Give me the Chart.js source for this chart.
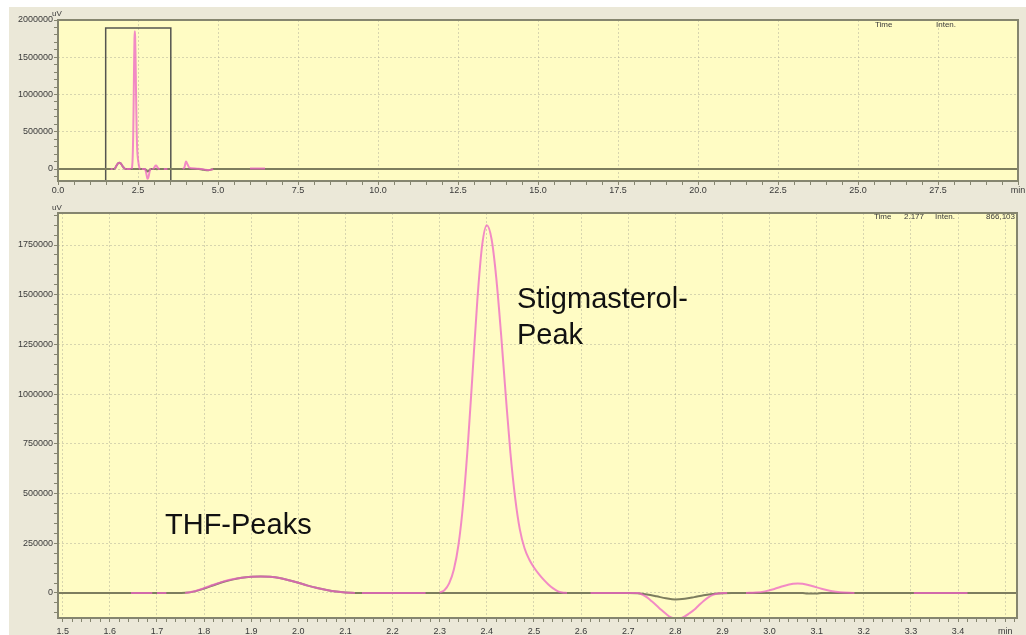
<!DOCTYPE html>
<html>
<head>
<meta charset="utf-8">
<script src="https://cdn.jsdelivr.net/npm/chart.js@4.4.1/dist/chart.umd.min.js"></script>
<style>
  html, body { margin: 0; padding: 0; background: #fff; }
  body { width: 1026px; height: 635px; position: relative; overflow: hidden; }
  #panel { position: absolute; left: 9px; top: 7px; right: 0; bottom: 0; background: #ebe8d8; }
  #overview { position: absolute; left: 0; top: 0; }
  #detail { position: absolute; left: 0; top: 196px; }
</style>
</head>
<body>
<div id="panel"></div>
<canvas id="overview" width="1026" height="198"></canvas>
<canvas id="detail" width="1026" height="439"></canvas>
<script>
// sample run (pink), null = trace not visible
const sampleTime = [
  1.645, 1.69, 1.695, 1.70, 1.72, 1.74,
  1.76, 1.78, 1.80, 1.82, 1.84, 1.86, 1.88, 1.90, 1.92, 1.94, 1.96, 1.98, 2.00, 2.02, 2.04, 2.06, 2.08, 2.10, 2.12, 2.125,
  2.135, 2.27, 2.285,
  2.30, 2.31, 2.32, 2.33, 2.34, 2.35, 2.36, 2.37, 2.38, 2.39, 2.40, 2.41, 2.42, 2.43, 2.44, 2.45, 2.46, 2.47, 2.48, 2.49,
  2.50, 2.51, 2.52, 2.53, 2.54, 2.55, 2.56, 2.57, 2.59,
  2.62, 2.72, 2.73, 2.74, 2.75, 2.76, 2.77, 2.78, 2.79, 2.80, 2.81, 2.82, 2.83, 2.84, 2.85, 2.86, 2.87, 2.88, 2.89, 2.91, 2.93,
  2.95, 2.97, 2.99, 3.01, 3.03, 3.05, 3.06, 3.07, 3.09, 3.11, 3.13, 3.15, 3.18, 3.25,
  3.306, 3.42, 3.60,
  3.90, 3.95, 4.00, 4.05, 4.10, 4.20, 4.35, 4.50, 4.60, 4.75, 4.85, 5.50,
  6.00, 6.47
];
const sampleSignal = [
  0, 0, null, 0, 0, null,
  0, 9000, 24000, 41000, 57000, 69000, 77000, 82000, 83000, 81000, 75000, 64000, 51000, 37000, 25000, 15000, 7000, 2000, 0, null,
  0, 0, null,
  2000, 14000, 48000, 118000, 245000, 455000, 755000, 1115000, 1478000, 1748000, 1850000, 1780000, 1585000, 1308000, 998000, 705000, 480000, 320000, 225000, 168000,
  128000, 96000, 68000, 44000, 24000, 9000, 2000, 0, null,
  0, 0, -8000, -22000, -42000, -63000, -85000, -105000, -122000, -130000, -128000, -118000, -102000, -85000, -62000, -40000, -22000, -10000, -3000, 0, null,
  0, 2000, 8000, 20000, 35000, 46000, 48000, 46000, 35000, 21000, 10000, 3000, 0, null,
  0, 0, null,
  0, 20000, 100000, 60000, 20000, 10000, 5000, 0, -10000, -15000, 0, null,
  8000, 8000
];

// blank / solvent run (olive)
const blankTime = [
  0, 1.74, 1.76, 1.78, 1.80, 1.82, 1.84, 1.86, 1.88, 1.90, 1.92, 1.94, 1.96, 1.98, 2.00, 2.02, 2.04, 2.06, 2.08, 2.10, 2.12,
  2.70, 2.72, 2.74, 2.76, 2.78, 2.80, 2.82, 2.84, 2.86, 2.88, 2.90, 2.92,
  3.07, 3.08, 3.10, 3.11, 4.40, 4.55, 4.70, 4.85, 30
];
const blankSignal = [
  0, 0, 1000, 8000, 22000, 39000, 55000, 67000, 76000, 81000, 83000, 81000, 75000, 64000, 51000, 37000, 25000, 15000, 7000, 2000, 0,
  0, -2000, -8000, -17000, -27000, -33000, -29000, -21000, -12000, -5000, -1000, 0,
  0, -3000, -3000, 0, 0, -10000, -18000, 0, 0
];

// zoom window marked on the overview
const zoomBoxTime = [1.49, 1.49, 3.525, 3.525, 1.49];
const zoomBoxSignal = [-161000, 1893000, 1893000, -161000, -161000];

const overviewYLabels = [0, 500000, 1000000, 1500000, 2000000];
const detailYLabels = [0, 250000, 500000, 750000, 1000000, 1250000, 1500000, 1750000];

const plotFill = "#fffcc4";
const frameColor = "#85856f";
const gridColor = "rgba(150,150,140,0.38)";
const labelColor = "#3a3a3a";
const pinkColor = "rgba(238,100,196,0.75)";
const oliveColor = "#7d7d5e";

Chart.defaults.font.family = "'Liberation Sans', Arial, sans-serif";
Chart.defaults.animation = false;

const zip = (xs, ys) => xs.map((x, i) => ({ x: x, y: ys[i] }));
const isMultiple = (v, step) => Math.abs(v / step - Math.round(v / step)) < 1e-6;

function makeTicks(min, max, step) {
  const out = [];
  const n0 = Math.ceil(min / step - 1e-9), n1 = Math.floor(max / step + 1e-9);
  for (let i = n0; i <= n1; i++) out.push({ value: +(i * step).toFixed(6) });
  return out;
}

function xScale(min, max, minor, major, endAt, pad) {
  return {
    type: "linear", min: min, max: max,
    afterBuildTicks: s => { s.ticks = makeTicks(min, max, minor); },
    afterFit: s => { s.height = 17; },
    grid: {
      color: c => c.tick && isMultiple(c.tick.value, major) ? gridColor : "transparent",
      tickColor: frameColor, tickLength: 4, lineWidth: 1
    },
    border: { display: false, dash: [2, 2] },
    ticks: {
      autoSkip: false, maxRotation: 0, padding: pad, color: labelColor, font: { size: 9 },
      callback: v => Math.abs(v - endAt) < 1e-6 ? "min" : (isMultiple(v, major) ? v.toFixed(1) : "")
    }
  };
}

function yScale(min, max, minor, labels) {
  return {
    min: min, max: max,
    afterBuildTicks: s => { s.ticks = makeTicks(min, max, minor); },
    afterFit: s => { s.width = 58; },
    grid: {
      color: c => c.tick && labels.includes(c.tick.value) ? gridColor : "transparent",
      tickColor: frameColor, tickLength: 4, lineWidth: 1
    },
    border: { display: false, dash: [2, 2] },
    ticks: {
      autoSkip: false, padding: 1, color: labelColor, font: { size: 9 },
      callback: v => labels.includes(v) ? String(v) : ""
    }
  };
}

const panelPlugin = {
  id: "panel",
  beforeDraw(chart) {
    const { ctx, chartArea: a } = chart;
    ctx.save();
    ctx.fillStyle = plotFill;
    ctx.fillRect(a.left, a.top, a.right - a.left, a.bottom - a.top);
    ctx.restore();
  },
  afterDatasetsDraw(chart) {
    const { ctx, chartArea: a } = chart;
    ctx.save();
    ctx.strokeStyle = frameColor;
    ctx.lineWidth = 2;
    ctx.strokeRect(a.left, a.top, a.right - a.left, a.bottom - a.top);
    ctx.restore();
  }
};

function textPlugin(items) {
  return {
    id: "texts",
    afterDraw(chart) {
      const ctx = chart.ctx;
      ctx.save();
      ctx.textBaseline = "middle";
      items.forEach(t => {
        ctx.font = t.font;
        ctx.fillStyle = t.color;
        ctx.textAlign = t.align || "left";
        ctx.fillText(t.text, t.x, t.y);
      });
      ctx.restore();
    }
  };
}

const small = "8px 'Liberation Sans', Arial, sans-serif";
const big = "29px 'Liberation Sans', Arial, sans-serif";

function traces(withBox) {
  const ds = [
    { data: zip(sampleTime, sampleSignal), borderColor: pinkColor, borderWidth: 2, showLine: true,
      pointRadius: 0, spanGaps: false, cubicInterpolationMode: "monotone" },
    { data: zip(blankTime, blankSignal), borderColor: oliveColor, borderWidth: 2, showLine: true,
      pointRadius: 0, cubicInterpolationMode: "monotone" }
  ];
  if (withBox) {
    ds.push({ data: zip(zoomBoxTime, zoomBoxSignal), borderColor: "#555550", borderWidth: 1.5,
      showLine: true, pointRadius: 0, tension: 0 });
  }
  return ds;
}

// overview chart
new Chart(document.getElementById("overview"), {
  type: "scatter",
  data: { datasets: traces(true) },
  options: {
    responsive: false,
    layout: { padding: { top: 20, right: 8, left: 0, bottom: 0 } },
    plugins: { legend: { display: false }, tooltip: { enabled: false } },
    scales: {
      x: xScale(0, 30, 0.5, 2.5, 30, 0),
      y: yScale(-161000, 2000000, 100000, overviewYLabels)
    }
  },
  plugins: [panelPlugin, textPlugin([
    { text: "uV", x: 52, y: 14, font: small, color: labelColor },
    { text: "Time", x: 875, y: 25, font: small, color: labelColor },
    { text: "Inten.", x: 936, y: 25, font: small, color: labelColor }
  ])]
});

// detail chart
new Chart(document.getElementById("detail"), {
  type: "scatter",
  data: { datasets: traces(false) },
  options: {
    responsive: false,
    layout: { padding: { top: 17, right: 9, left: 0, bottom: 0 } },
    plugins: { legend: { display: false }, tooltip: { enabled: false } },
    scales: {
      x: xScale(1.49, 3.525, 0.02, 0.1, 3.5, 4),
      y: yScale(-126000, 1911000, 50000, detailYLabels)
    }
  },
  plugins: [panelPlugin, textPlugin([
    { text: "uV", x: 52, y: 12, font: small, color: labelColor },
    { text: "Time", x: 874, y: 21, font: small, color: labelColor },
    { text: "2.177", x: 904, y: 21, font: small, color: labelColor },
    { text: "Inten.", x: 935, y: 21, font: small, color: labelColor },
    { text: "866,103", x: 1015, y: 21, font: small, color: labelColor, align: "right" },
    { text: "THF-Peaks", x: 165, y: 330, font: big, color: "#111" },
    { text: "Stigmasterol-", x: 517, y: 104, font: big, color: "#111" },
    { text: "Peak", x: 517, y: 140, font: big, color: "#111" }
  ])]
});
</script>
</body>
</html>
